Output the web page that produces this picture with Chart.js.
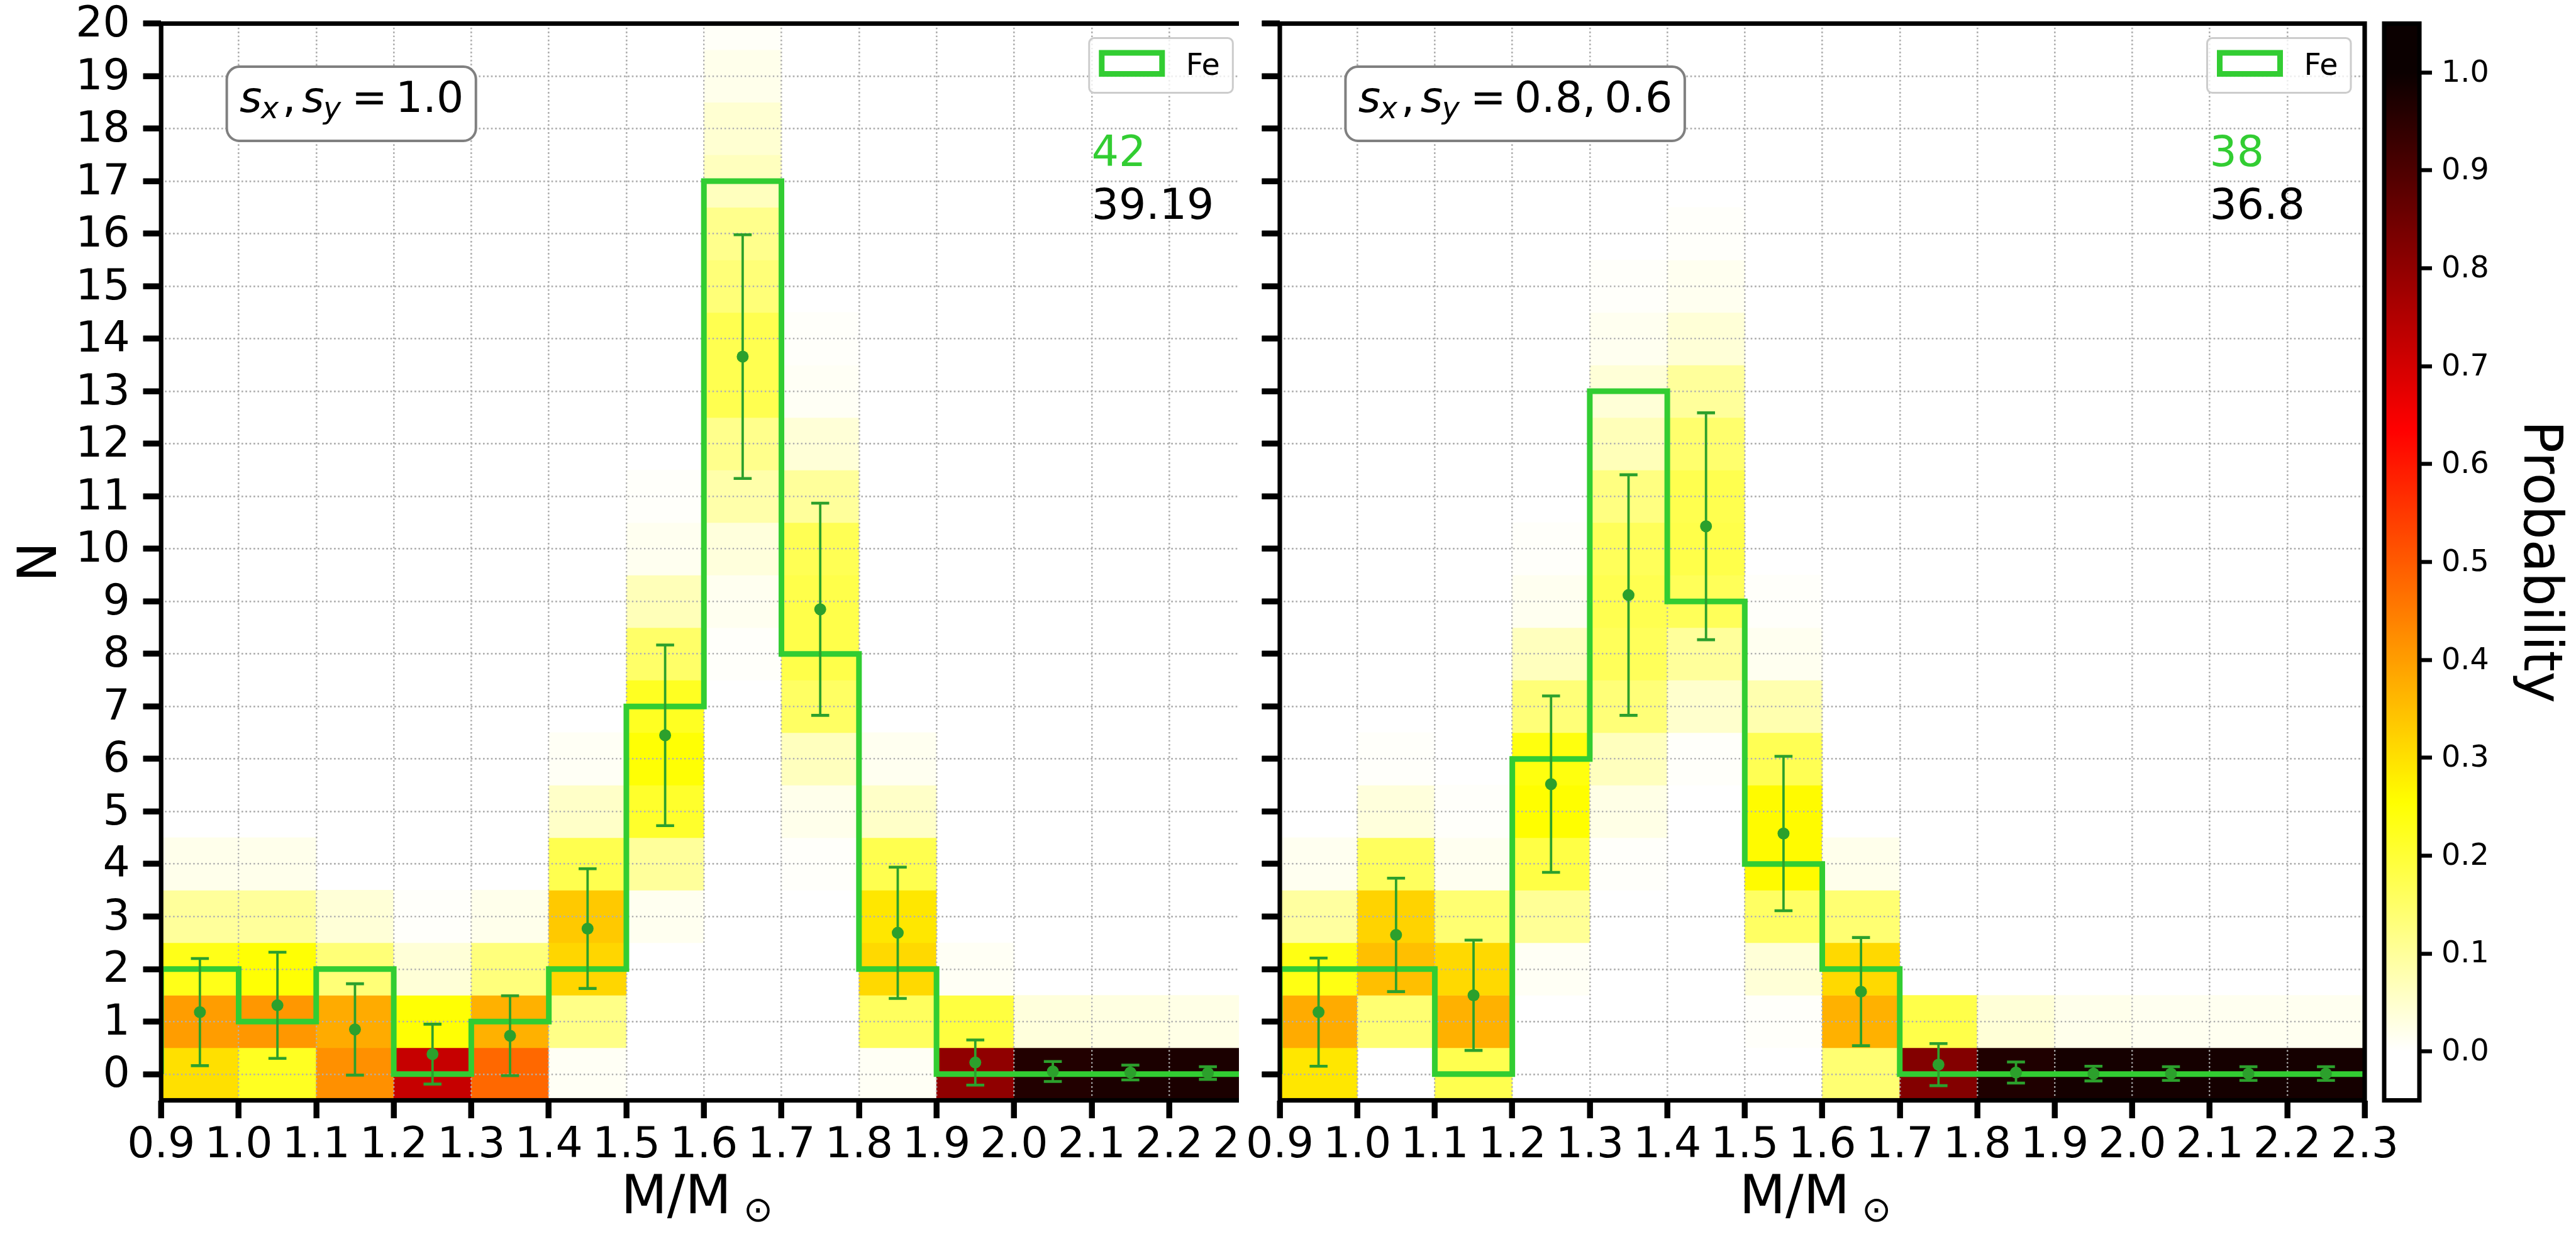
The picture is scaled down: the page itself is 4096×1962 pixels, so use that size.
<!DOCTYPE html>
<html>
<head>
<meta charset="utf-8">
<style>
  html, body { margin: 0; padding: 0; background: #fff; overflow: hidden; }
  canvas { position: absolute; top: 0; }
  #left_panel { left: 0; z-index: 1; }
  #right_panel { left: 1970px; z-index: 2; background: #fff; }
  #colorbar { left: 3770px; z-index: 3; }
</style>
</head>
<body>
<canvas id="left_panel" width="2060" height="1962"></canvas>
<canvas id="right_panel" width="1860" height="1962"></canvas>
<canvas id="colorbar" width="326" height="1962"></canvas>
<script src="https://cdn.jsdelivr.net/npm/chart.js"></script>
<script>
// axes
const massEdges = [0.9, 1.0, 1.1, 1.2, 1.3, 1.4, 1.5, 1.6, 1.7, 1.8, 1.9, 2.0, 2.1, 2.2, 2.3];
const countTicks = [0, 1, 2, 3, 4, 5, 6, 7, 8, 9, 10, 11, 12, 13, 14, 15, 16, 17, 18, 19, 20];
const probTicks = [0.0, 0.1, 0.2, 0.3, 0.4, 0.5, 0.6, 0.7, 0.8, 0.9, 1.0];
const probRange = [-0.05, 1.05];

// P(N) per mass bin, listed from N = 0 upwards (anything not listed is 0)
const probLeft = [
  [0.30, 0.40, 0.23, 0.10, 0.02],
  [0.22, 0.41, 0.25, 0.10, 0.02],
  [0.42, 0.38, 0.135, 0.04],
  [0.72, 0.25, 0.04, 0.005],
  [0.48, 0.37, 0.13, 0.02],
  [0.01, 0.12, 0.315, 0.335, 0.175, 0.055, 0.01],
  [0, 0, 0, 0.015, 0.10, 0.21, 0.25, 0.22, 0.15, 0.07, 0.015, 0.005],
  [0, 0, 0, 0, 0, 0, 0, 0, 0.005, 0.015, 0.035, 0.085, 0.115, 0.174, 0.174, 0.134, 0.115, 0.065, 0.045, 0.02, 0.007],
  [0, 0, 0, 0, 0.005, 0.02, 0.065, 0.155, 0.18, 0.18, 0.17, 0.10, 0.04, 0.01, 0.005],
  [0.01, 0.16, 0.31, 0.29, 0.175, 0.055, 0.015],
  [0.80, 0.19, 0.01],
  [0.965, 0.035],
  [0.975, 0.03],
  [0.975, 0.025]
];
const probRight = [
  [0.29, 0.38, 0.235, 0.095, 0.015],
  [0, 0.14, 0.35, 0.32, 0.16, 0.035, 0.005],
  [0.175, 0.37, 0.31, 0.14, 0.015, 0.005],
  [0, 0, 0.01, 0.105, 0.185, 0.255, 0.24, 0.134, 0.065, 0.015, 0.005],
  [0, 0, 0, 0, 0.005, 0.025, 0.065, 0.134, 0.164, 0.174, 0.164, 0.125, 0.07, 0.04, 0.015, 0.005],
  [0, 0, 0, 0, 0, 0, 0.005, 0.05, 0.10, 0.165, 0.18, 0.175, 0.145, 0.10, 0.04, 0.015, 0.005],
  [0, 0.005, 0.04, 0.155, 0.26, 0.26, 0.17, 0.08, 0.015, 0.005],
  [0.14, 0.37, 0.31, 0.14, 0.02],
  [0.82, 0.18],
  [0.97, 0.04],
  [0.985, 0.02],
  [0.985, 0.015],
  [0.985, 0.015],
  [0.985, 0.015]
];

// Fe histogram counts
const countsLeft = [2, 1, 2, 0, 1, 2, 7, 17, 8, 2, 0, 0, 0, 0];
const countsRight = [2, 2, 0, 6, 13, 9, 4, 2, 0, 0, 0, 0, 0, 0];

// expected N with 1-sigma spread
const meanLeft = [1.18, 1.31, 0.85, 0.38, 0.73, 2.77, 6.45, 13.66, 8.85, 2.69, 0.22, 0.05, 0.03, 0.02];
const errLeft = [1.02, 1.01, 0.87, 0.57, 0.76, 1.14, 1.72, 2.32, 2.02, 1.25, 0.43, 0.19, 0.14, 0.12];
const meanRight = [1.18, 2.65, 1.50, 5.52, 9.12, 10.43, 4.58, 1.57, 0.18, 0.03, 0.01, 0.01, 0.01, 0.01];
const errRight = [1.03, 1.08, 1.05, 1.68, 2.29, 2.16, 1.47, 1.03, 0.40, 0.20, 0.14, 0.13, 0.13, 0.13];

const scaleLeft = '1.0';
const scaleRight = '0.8, 0.6';
const totalsLeft = ['42', '39.19'];
const totalsRight = ['38', '36.8'];

const FAMILY = "'DejaVu Sans'";
const LIME = '#32cd32';
const DARK_GREEN = '#2ca02c';
Chart.defaults.font.family = FAMILY;
Chart.defaults.color = '#000';

// matplotlib hot_r, normalised 0..1
function hotR(v) {
  const s = 1 - Math.min(1, Math.max(0, v));
  const r = s < 0.365079 ? 0.0416 + 0.9584 * s / 0.365079 : 1;
  const g = s < 0.365079 ? 0 : (s < 0.746032 ? (s - 0.365079) / 0.380953 : 1);
  const b = s < 0.746032 ? 0 : (s - 0.746032) / 0.253968;
  return 'rgb(' + Math.round(r * 255) + ',' + Math.round(g * 255) + ',' + Math.round(b * 255) + ')';
}

const panelDecor = {
  id: 'panelDecor',
  afterDatasetDraw(chart, args) {
    // dotted grid sits on top of the heat map but under the lines
    if (args.index !== 0) return;
    chart.scales.x.drawGrid(chart.chartArea);
    chart.scales.y.drawGrid(chart.chartArea);
  },
  afterDraw(chart, args, opts) {
    const ctx = chart.ctx;
    const a = chart.chartArea;
    const x = chart.scales.x;
    ctx.save();

    // frame
    ctx.strokeStyle = '#000';
    ctx.lineWidth = 7.2;
    ctx.strokeRect(a.left, a.top, a.right - a.left, a.bottom - a.top);

    // s_x, s_y box
    ctx.font = '68px ' + FAMILY;
    const valText = opts.scaleText.replace(', ', ',\u2009');
    const valW = ctx.measureText(valText).width;
    const bx = a.left + 104.4, by = a.top + 68.5, bh = 118;
    const bw = 248 + valW + 40;
    ctx.beginPath();
    ctx.roundRect(bx, by, bw, bh, 20);
    ctx.fillStyle = '#fff';
    ctx.fill();
    ctx.lineWidth = 4;
    ctx.strokeStyle = '#808080';
    ctx.stroke();
    const tx = bx + 20.4, base = by + 72;
    ctx.fillStyle = '#000';
    ctx.textAlign = 'left';
    ctx.textBaseline = 'alphabetic';
    ctx.font = 'italic 68px ' + FAMILY;
    ctx.fillText('s', tx, base);
    ctx.fillText('s', tx + 99, base);
    ctx.font = 'italic 47.6px ' + FAMILY;
    ctx.fillText('x', tx + 34, base + 10);
    ctx.fillText('y', tx + 133, base + 10);
    ctx.font = '68px ' + FAMILY;
    ctx.fillText(',', tx + 68, base);
    ctx.fillText('=', tx + 178, base);
    ctx.fillText(valText, tx + 248, base);

    // legend
    const ds = chart.data.datasets[1];
    const lw = 228.5, lh = 87;
    const lx = a.right - 22 - lw, ly = a.top + 23;
    ctx.beginPath();
    ctx.roundRect(lx, ly, lw, lh, 8);
    ctx.fillStyle = 'rgba(255,255,255,0.8)';
    ctx.fill();
    ctx.lineWidth = 3;
    ctx.strokeStyle = '#cccccc';
    ctx.stroke();
    ctx.lineWidth = 9;
    ctx.strokeStyle = ds.borderColor;
    ctx.strokeRect(lx + 20, ly + 23.5, 96, 33.5);
    ctx.fillStyle = '#000';
    ctx.font = '47.6px ' + FAMILY;
    ctx.fillText(ds.label, lx + 154, ly + 58);

    // totals
    ctx.font = '68px ' + FAMILY;
    const px = x.getPixelForValue(2.1);
    ctx.fillStyle = LIME;
    ctx.fillText(opts.totals[0], px, a.top + 226.8);
    ctx.fillStyle = '#000';
    ctx.fillText(opts.totals[1], px, a.top + 310);

    // x title M/M_sun
    const cx = (a.left + a.right) / 2;
    ctx.font = '85px ' + FAMILY;
    const mm = ctx.measureText('M/M');
    ctx.fillText('M/M', cx - 123.8 + mm.actualBoundingBoxLeft, 1929);
    ctx.font = '56px ' + FAMILY;
    const sm = ctx.measureText('\u2299');
    ctx.fillText('\u2299', cx + 67.7 + sm.actualBoundingBoxLeft,
      1924 + (sm.actualBoundingBoxAscent - sm.actualBoundingBoxDescent) / 2);

    // y title
    if (opts.yTitle) {
      ctx.translate(57, (a.top + a.bottom) / 2);
      ctx.rotate(-Math.PI / 2);
      ctx.font = '85px ' + FAMILY;
      ctx.textAlign = 'center';
      const nm = ctx.measureText(opts.yTitle);
      ctx.fillText(opts.yTitle, 0, nm.actualBoundingBoxAscent / 2);
    }
    ctx.restore();
  }
};

function axisGrid() {
  return { color: '#b0b0b0', lineWidth: 2.4, offset: false, tickLength: 28.5, tickWidth: 9, tickColor: '#000' };
}

function makePanel(canvasId, p) {
  const n = p.counts.length;
  const centers = p.counts.map((_, i) => (massEdges[i] + massEdges[i + 1]) / 2);

  const heat = [], heatColors = [];
  p.prob.forEach((col, i) => col.forEach((v, k) => {
    if (v > 0) {
      heat.push({ x: centers[i], y: [k - 0.5, k + 0.5] });
      heatColors.push(hotR(v));
    }
  }));

  // histogram outline: each count runs from its left edge to the next edge
  const step = [{ x: massEdges[0], y: 0 }];
  p.counts.forEach((c, i) => step.push({ x: massEdges[i], y: c }));
  step.push({ x: massEdges[n], y: p.counts[n - 1] }, { x: massEdges[n], y: 0 });

  const whiskers = p.mean.map((m, i) => ({ x: centers[i], y: [m - p.err[i], m + p.err[i]] }));
  const caps = p.mean.flatMap((m, i) => [{ x: centers[i], y: m - p.err[i] }, { x: centers[i], y: m + p.err[i] }]);
  const dots = p.mean.map((m, i) => ({ x: centers[i], y: m }));

  return new Chart(document.getElementById(canvasId), {
    type: 'bar',
    data: {
      datasets: [
        { type: 'bar', data: heat, backgroundColor: heatColors, borderWidth: 0, grouped: false,
          barPercentage: 1, categoryPercentage: 1, order: 5 },
        { type: 'line', label: 'Fe', data: step, borderColor: LIME, borderWidth: 9, stepped: 'before',
          pointRadius: 0, fill: false, borderJoinStyle: 'miter', order: 4 },
        { type: 'bar', data: whiskers, backgroundColor: DARK_GREEN, borderWidth: 0, grouped: false,
          barThickness: 3.8, inflateAmount: 0, order: 3 },
        { type: 'scatter', data: caps, pointStyle: 'line', pointRadius: 14.3, pointBorderWidth: 4.6,
          pointBorderColor: DARK_GREEN, order: 2 },
        { type: 'scatter', data: dots, pointStyle: 'circle', pointRadius: 9.5, pointBorderWidth: 0,
          pointBackgroundColor: DARK_GREEN, order: 1 }
      ]
    },
    options: {
      responsive: false,
      animation: false,
      events: [],
      devicePixelRatio: 1,
      layout: { padding: { top: 37.5, bottom: 0, left: 0, right: p.padRight } },
      plugins: {
        legend: { display: false },
        tooltip: { enabled: false },
        panelDecor: { scaleText: p.scaleText, totals: p.totals, yTitle: p.yTitle }
      },
      scales: {
        x: {
          type: 'linear', min: massEdges[0], max: massEdges[n], offset: false,
          afterBuildTicks: s => { s.ticks = massEdges.map(v => ({ value: v })); },
          afterFit: s => { s.height = 212.5; },
          grid: axisGrid(),
          border: { display: false, dash: [2.4, 4] },
          ticks: { autoSkip: false, maxRotation: 0, minRotation: 0, padding: 4, color: '#000',
            font: { size: 68, lineHeight: 1.2 }, callback: v => v.toFixed(1) }
        },
        y: {
          type: 'linear', min: -0.5, max: 20,
          afterBuildTicks: s => { s.ticks = countTicks.map(v => ({ value: v })); },
          afterFit: s => { s.width = p.yWidth; },
          grid: axisGrid(),
          border: { display: false, dash: [2.4, 4] },
          ticks: { display: p.yLabels, autoSkip: false, padding: 21, labelOffset: 3, color: '#000',
            font: { size: 68, lineHeight: 0.1 }, callback: v => String(v) }
        }
      }
    },
    plugins: [panelDecor]
  });
}

makePanel('left_panel', {
  prob: probLeft, counts: countsLeft, mean: meanLeft, err: errLeft,
  scaleText: scaleLeft, totals: totalsLeft, yTitle: 'N', yLabels: true, yWidth: 256.2, padRight: 77.7
});
makePanel('right_panel', {
  prob: probRight, counts: countsRight, mean: meanRight, err: errRight,
  scaleText: scaleRight, totals: totalsRight, yTitle: null, yLabels: false, yWidth: 65, padRight: 70
});

// colour bar
const cbarDecor = {
  id: 'cbarDecor',
  afterDraw(chart) {
    const ctx = chart.ctx;
    const a = chart.chartArea;
    ctx.save();
    ctx.strokeStyle = '#000';
    ctx.lineWidth = 7;
    ctx.strokeRect(a.left, a.top, a.right - a.left, a.bottom - a.top);
    ctx.translate(244, (a.top + a.bottom) / 2);
    ctx.rotate(Math.PI / 2);
    ctx.fillStyle = '#000';
    ctx.font = '85px ' + FAMILY;
    ctx.textAlign = 'center';
    ctx.textBaseline = 'alphabetic';
    ctx.fillText('Probability', 0, 0);
    ctx.restore();
  }
};

new Chart(document.getElementById('colorbar'), {
  type: 'bar',
  data: {
    labels: [''],
    datasets: [{
      data: [probRange],
      borderWidth: 0,
      inflateAmount: 0,
      barPercentage: 1,
      categoryPercentage: 1,
      backgroundColor(c) {
        const chart = c.chart;
        if (!chart.chartArea) return '#fff';
        const y = chart.scales.y;
        const g = chart.ctx.createLinearGradient(0, y.getPixelForValue(probRange[0]), 0, y.getPixelForValue(probRange[1]));
        const steps = 220;
        for (let k = 0; k <= steps; k++) {
          const v = probRange[0] + (probRange[1] - probRange[0]) * k / steps;
          g.addColorStop(k / steps, hotR(v));
        }
        return g;
      }
    }]
  },
  options: {
    responsive: false,
    animation: false,
    events: [],
    devicePixelRatio: 1,
    layout: { padding: { top: 37.5, bottom: 212.5, left: 21, right: 0 } },
    plugins: { legend: { display: false }, tooltip: { enabled: false } },
    scales: {
      x: { display: false },
      y: {
        position: 'right', min: probRange[0], max: probRange[1],
        afterBuildTicks: s => { s.ticks = probTicks.map(v => ({ value: v })); },
        afterFit: s => { s.width = 249; },
        grid: { drawOnChartArea: false, tickLength: 20, tickWidth: 6.3, tickColor: '#000' },
        border: { display: false },
        ticks: { autoSkip: false, padding: 15, labelOffset: 2, color: '#000',
          font: { size: 47.6, lineHeight: 0.1 }, callback: v => v.toFixed(1) }
      }
    }
  },
  plugins: [cbarDecor]
});
</script>
</body>
</html>
